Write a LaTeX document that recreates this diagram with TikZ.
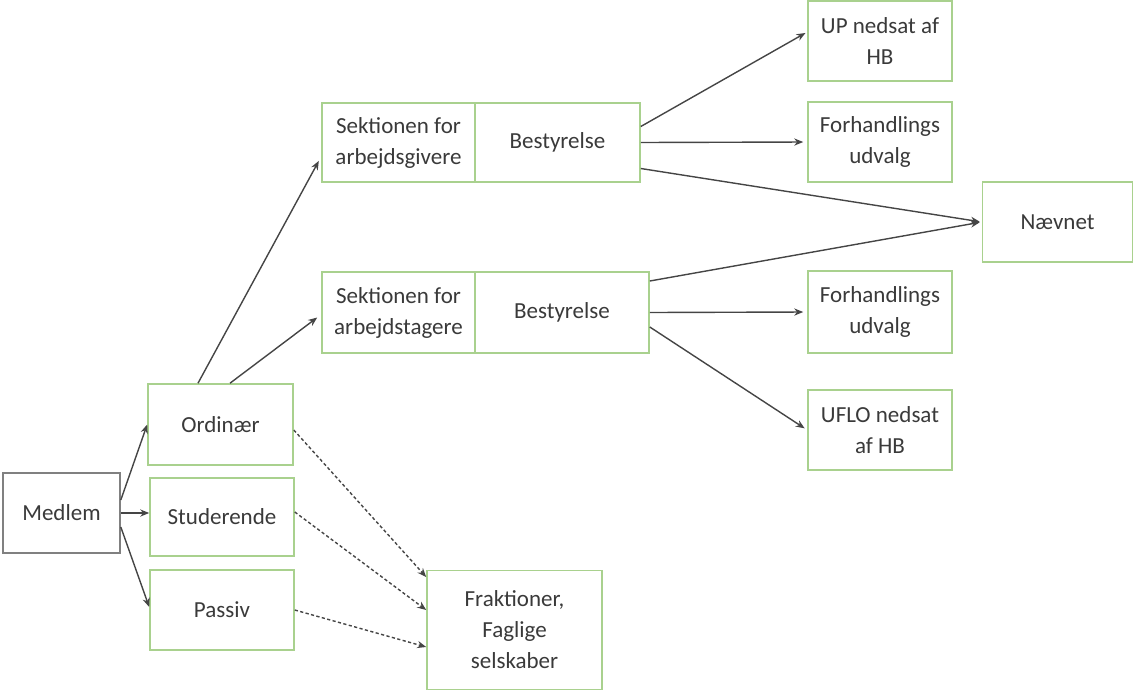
\documentclass[tikz,border=0pt]{standalone}
\usepackage{fontspec}
\setmainfont{Carlito}
\usetikzlibrary{arrows.meta,calc}
\definecolor{boxgreen}{HTML}{A9D18E}
\definecolor{txtgray}{HTML}{3A3A3A}
\definecolor{linegray}{HTML}{454545}
\definecolor{medgray}{HTML}{808080}
\tikzset{
  gbox/.style={draw=boxgreen, line width=0.8pt, fill=white, rectangle, align=center,
    text=txtgray, font=\fontsize{11.5}{15.5}\selectfont, inner sep=1pt},
  mbox/.style={gbox, draw=medgray},
  conn/.style={draw=linegray, line width=0.7pt, -{Stealth[length=4.5pt,width=3.6pt]}},
  dconn/.style={conn, dash pattern=on 1.6pt off 1.2pt},
}
\begin{document}
\begin{tikzpicture}[x=0.5pt,y=-0.5pt]
\useasboundingbox (0,0) rectangle (1134,691);
% nodes
\node[mbox, minimum width=58.5pt, minimum height=40pt] (m) at (61.5,513) {Medlem};
\node[gbox, minimum width=72.5pt, minimum height=40.5pt] (ord) at (220.5,424.5) {Ordinær};
\node[gbox, minimum width=72pt, minimum height=39pt] (stud) at (222,517) {Studerende};
\node[gbox, minimum width=72pt, minimum height=40pt] (pas) at (222,610) {Passiv};
\node[gbox, minimum width=76.5pt, minimum height=39.5pt] (s1) at (398.5,142.5) {Sektionen for\\arbejdsgivere};
\node[gbox, minimum width=82.5pt, minimum height=39.5pt] (b1) at (557.5,142.5) {Bestyrelse};
\node[gbox, minimum width=76.5pt, minimum height=40.5pt] (s2) at (398.5,312.5) {Sektionen for\\arbejdstagere};
\node[gbox, minimum width=87pt, minimum height=40.5pt] (b2) at (562,312.5) {Bestyrelse};
\node[gbox, minimum width=72pt, minimum height=40pt] (up) at (880,41) {UP nedsat af\\HB};
\node[gbox, minimum width=72pt, minimum height=40pt] (f1) at (880,142) {Forhandlings\\udvalg};
\node[gbox, minimum width=75pt, minimum height=40pt] (nae) at (1057.5,222) {Nævnet};
\node[gbox, minimum width=72pt, minimum height=41pt] (f2) at (880,312) {Forhandlings\\udvalg};
\node[gbox, minimum width=72pt, minimum height=40pt] (uflo) at (880,430) {UFLO nedsat\\af HB};
\node[gbox, minimum width=87.5pt, minimum height=59.5pt] (fr) at (514.5,630) {Fraktioner,\\Faglige\\selskaber};
% connectors
\draw[conn] ([yshift=6.5pt]m.east) -- (ord.west);
\draw[conn] (m.east) -- ([yshift=2pt]stud.west);
\draw[conn] ([yshift=-7pt]m.east) -- ([yshift=1.5pt]pas.west);
\draw[conn, shorten >=2.5pt] ([xshift=-11.25pt]ord.north) -- ([yshift=-7pt]s1.west);
\draw[conn, shorten >=2.5pt] ([xshift=4.75pt]ord.north) -- ([yshift=-1pt]s2.west);
\draw[conn, shorten >=1pt] ([yshift=8pt]b1.east) -- ([yshift=4.5pt]up.west);
\draw[conn, shorten >=2pt] (b1.east) -- (f1.west);
\draw[conn, shorten >=1pt] ([yshift=-13pt]b1.east) -- (nae.west);
\draw[conn, shorten >=1pt] ([yshift=15.75pt]b2.east) -- (nae.west);
\draw[conn, shorten >=2pt] (b2.east) -- (f2.west);
\draw[conn, shorten >=1.5pt] ([yshift=-7.25pt]b2.east) -- (uflo.west);
\draw[dconn] ([yshift=-2.75pt]ord.east) -- ([yshift=26.5pt]fr.west);
\draw[dconn] ([yshift=2.5pt]stud.east) -- ([yshift=10pt]fr.west);
\draw[dconn] (pas.east) -- ([yshift=-8.5pt]fr.west);
\end{tikzpicture}
\end{document}
